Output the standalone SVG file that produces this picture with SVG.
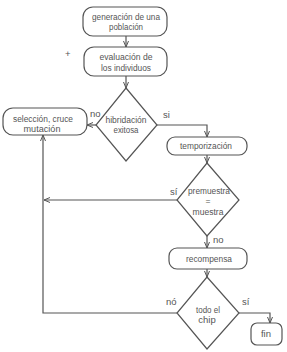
<svg xmlns="http://www.w3.org/2000/svg" width="287" height="352" viewBox="0 0 287 352">
<defs>
<style>
.n{fill:#fff;stroke:#555;stroke-width:1.2}
.t{font-family:"Liberation Sans",Arial,sans-serif;font-size:9.5px;fill:#555;text-anchor:middle}
.s{font-size:8.5px}
.l{font-family:"Liberation Sans",Arial,sans-serif;font-size:9.5px;fill:#555}
.c{fill:none;stroke:#555;stroke-width:1.2}
</style>
<marker id="a" viewBox="0 0 6 6" refX="6" refY="3" markerWidth="6" markerHeight="6" orient="auto" markerUnits="userSpaceOnUse">
<path d="M0,0.5 L6,3 L0,5.5" fill="none" stroke="#555" stroke-width="1"/>
</marker>
</defs>
<rect width="287" height="352" fill="#fff"/>
<g id="connectors">
<path class="c" d="M126,36 V47" marker-end="url(#a)"/>
<path class="c" d="M126,76 V88" marker-end="url(#a)"/>
<path class="c" d="M96,125 H87" marker-end="url(#a)"/>
<path class="c" d="M157,125 H207 V137" marker-end="url(#a)"/>
<path class="c" d="M207,155 V163" marker-end="url(#a)"/>
<path class="c" d="M177,200 H44" marker-end="url(#a)"/>
<path class="c" d="M207,236 V248" marker-end="url(#a)"/>
<path class="c" d="M207,269 V277" marker-end="url(#a)"/>
<path class="c" d="M177,313 H43 V135" marker-end="url(#a)"/>
<path class="c" d="M239,313 H270 V323" marker-end="url(#a)"/>
<text class="l" x="90" y="117">no</text>
<text class="l" x="163" y="118">si</text>
<text class="l" x="170" y="195">sí</text>
<text class="l" x="213" y="243">no</text>
<text class="l" x="166" y="305">nó</text>
<text class="l" x="242" y="305">sí</text>
</g>
<text class="l" x="65" y="57">+</text>
<g id="generacion">
<rect class="n" x="83" y="7" width="84" height="29" rx="10"/>
<text class="t" x="126" y="20" textLength="68" lengthAdjust="spacingAndGlyphs">generación de una</text>
<text class="t" x="126" y="30" textLength="34" lengthAdjust="spacingAndGlyphs">población</text>
</g>
<g id="evaluacion">
<rect class="n" x="84" y="47" width="83" height="29" rx="10"/>
<text class="t" x="126" y="60" textLength="53" lengthAdjust="spacingAndGlyphs">evaluación de</text>
<text class="t" x="126" y="71" textLength="50" lengthAdjust="spacingAndGlyphs">los individuos</text>
</g>
<g id="hibridacion">
<polygon class="n" points="126,88 157,125 126,161 96,125"/>
<text class="t" x="126" y="123" textLength="41" lengthAdjust="spacingAndGlyphs">hibridación</text>
<text class="t" x="126" y="133" textLength="25" lengthAdjust="spacingAndGlyphs">exitosa</text>
</g>
<g id="seleccion">
<rect class="n" x="3" y="108" width="84" height="27" rx="10"/>
<text class="t s" x="43" y="122" textLength="60" lengthAdjust="spacingAndGlyphs">selección, cruce</text>
<text class="t s" x="42" y="132" textLength="37" lengthAdjust="spacingAndGlyphs">mutación</text>
</g>
<g id="temporizacion">
<rect class="n" x="167" y="137" width="80" height="18" rx="8"/>
<text class="t" x="206" y="149" textLength="52" lengthAdjust="spacingAndGlyphs">temporización</text>
</g>
<g id="premuestra">
<polygon class="n" points="207,163 239,200 207,236 177,200"/>
<text class="t s" x="209" y="194" textLength="42" lengthAdjust="spacingAndGlyphs">premuestra</text>
<text class="t s" x="208" y="204">=</text>
<text class="t s" x="208" y="215" textLength="31" lengthAdjust="spacingAndGlyphs">muestra</text>
</g>
<g id="recompensa">
<rect class="n" x="169" y="248" width="78" height="21" rx="8"/>
<text class="t" x="209" y="262" textLength="46" lengthAdjust="spacingAndGlyphs">recompensa</text>
</g>
<g id="todo">
<polygon class="n" points="207,277 239,313 207,349 177,313"/>
<text class="t" x="208" y="313" textLength="24" lengthAdjust="spacingAndGlyphs">todo el</text>
<text class="t" x="207" y="323">chip</text>
</g>
<g id="fin">
<rect class="n" x="251" y="323" width="31" height="22" rx="6"/>
<text class="t" x="266" y="337">fin</text>
</g>
</svg>
